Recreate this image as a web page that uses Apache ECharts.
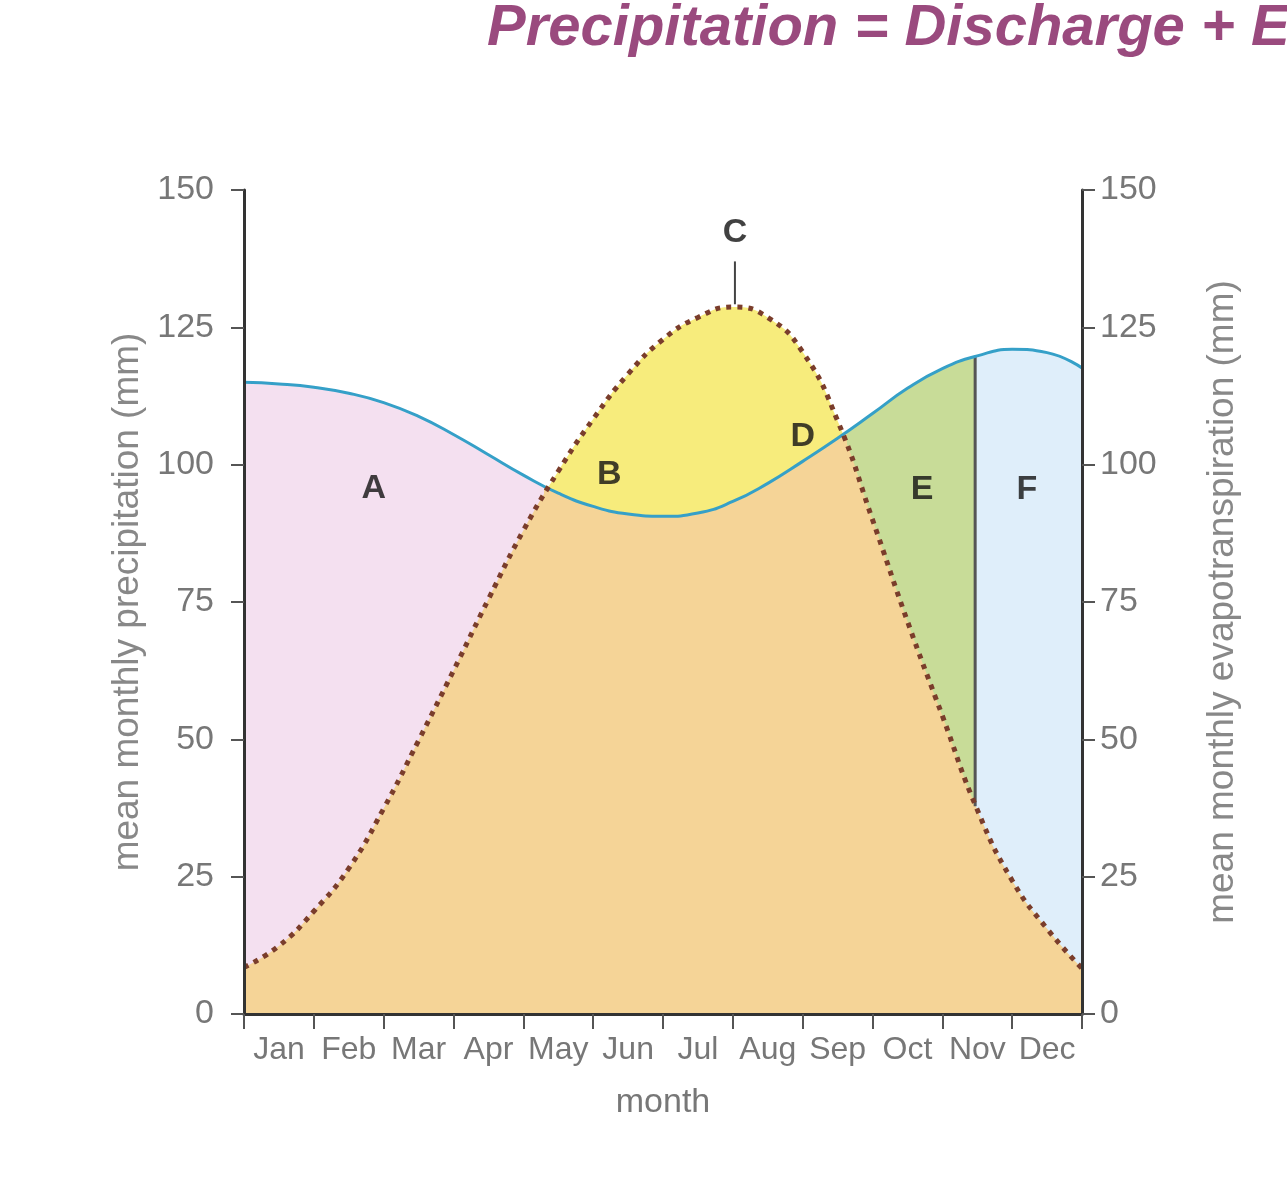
<!DOCTYPE html>
<html>
<head>
<meta charset="utf-8">
<title>Precipitation = Discharge + Evapotranspiration</title>
<script src="https://cdn.jsdelivr.net/npm/echarts@6/dist/echarts.min.js"></script>
<style>
	html, body { margin: 0; padding: 0; background: #fff; }
	#chart { width: 1287px; height: 1200px; }
</style>
</head>
<body>
<div id="chart"></div>
<script>
'use strict';

var months = ['Jan', 'Feb', 'Mar', 'Apr', 'May', 'Jun', 'Jul', 'Aug', 'Sep', 'Oct', 'Nov', 'Dec'];
// curve is read every half month
var monthSteps = [0, 0.5, 1, 1.5, 2, 2.5, 3, 3.5, 4, 4.5, 5, 5.5, 6, 6.5, 7, 7.5, 8, 8.5, 9, 9.5, 10, 10.5, 11, 11.5, 12];
var precipitation = [115, 114.7, 114.1, 113, 111.3, 108.8, 105.5, 101.8, 98.1, 94.8, 92.4, 91, 90.6, 91.2, 93.3, 96.6, 100.6, 104.8, 109.3, 113.9, 117.5, 119.8, 121, 120.4, 117.6];
var evapotranspiration = [8.5, 12.4, 18.7, 26.5, 37.4, 49.8, 62.5, 75.5, 88, 98.8, 108.3, 116.5, 122.8, 126.8, 128.7, 126.8, 120.5, 108, 90, 71.5, 54.3, 37.2, 24.3, 15.5, 8.3];

// where the zones change (month)
var deficitStart = 4.3;
var deficitEnd = 8.63;
var surplusStart = 10.47;
var surplusEdge = [37.8, 119.8];

var peakMonth = 7.03;
var peakTick = [129.2, 137];

var zoneNames = ['A', 'B', 'C', 'D', 'E', 'F'];
var zoneMonths = [1.86, 5.23, 7.03, 8.0, 9.71, 11.21];
var zoneValues = [95.6, 98.2, 142.2, 105.1, 95.5, 95.5];

var FONT = '"Liberation Sans", Arial, sans-serif';
var ORANGE = '#f5d497';

function curve(values) {
	return monthSteps.map(function (m, i) {
		return [m, values[i]];
	});
}

function areaOnly(values, z) {
	return {
		type: 'line',
		data: curve(values),
		smooth: true,
		symbol: 'none',
		silent: true,
		z: z,
		lineStyle: { width: 0, opacity: 0 },
		areaStyle: { opacity: 1 }
	};
}

var chart = echarts.init(document.getElementById('chart'));

var valueAxis = {
	type: 'value',
	min: 0,
	max: 150,
	interval: 25,
	z: 10,
	axisLine: { show: true, lineStyle: { color: '#333', width: 3 } },
	axisTick: { show: true, length: 13, lineStyle: { color: '#555', width: 2 } },
	splitLine: { show: false },
	nameLocation: 'middle',
	nameRotate: 90,
	nameTextStyle: { fontSize: 37, color: '#888', fontFamily: FONT }
};

var deficitArea = areaOnly(evapotranspiration, 1);
deficitArea.areaStyle.color = '#f7ec7c';

var option = {
	animation: false,
	backgroundColor: '#fff',
	title: {
		text: 'Precipitation = Discharge + Evapotranspiration',
		left: 487,
		top: 0,
		padding: 0,
		textStyle: { fontSize: 58, fontWeight: 'bold', fontStyle: 'italic', color: '#9a4a7e', fontFamily: FONT }
	},
	grid: { left: 244, right: 205, top: 190, bottom: 186, outerBoundsMode: 'none' },
	xAxis: {
		type: 'value',
		min: 0,
		max: 12,
		interval: 1,
		z: 10,
		axisLine: { show: true, onZero: false, lineStyle: { color: '#333', width: 3 } },
		axisTick: { show: true, length: 15, lineStyle: { color: '#555', width: 2 } },
		axisLabel: {
			color: '#777',
			fontSize: 32,
			fontFamily: FONT,
			margin: 20,
			// month names sit between the ticks
			padding: [0, 0, 0, 70],
			formatter: function (v) {
				return months[v] || '';
			}
		},
		splitLine: { show: false },
		name: 'month',
		nameLocation: 'middle',
		nameGap: 72,
		nameTextStyle: { fontSize: 34, color: '#777', fontFamily: FONT }
	},
	yAxis: [
		echarts.util.merge({
			position: 'left',
			name: 'mean monthly precipitation (mm)',
			nameGap: 98,
			axisLabel: { color: '#777', fontSize: 34, margin: 30, fontFamily: FONT }
		}, valueAxis),
		echarts.util.merge({
			position: 'right',
			name: 'mean monthly evapotranspiration (mm)',
			nameGap: 122,
			axisLabel: { color: '#777', fontSize: 34, margin: 18, fontFamily: FONT }
		}, valueAxis)
	],
	visualMap: [
		{
			show: false,
			type: 'piecewise',
			seriesIndex: 1,
			dimension: 0,
			pieces: [
				{ gte: 0, lt: deficitStart, color: '#f4e0f0' },
				{ gte: deficitStart, lt: deficitEnd, color: ORANGE },
				{ gte: deficitEnd, lt: surplusStart, color: '#c8dc98' },
				{ gte: surplusStart, lte: 12, color: '#dfeefa' }
			]
		},
		{
			show: false,
			type: 'piecewise',
			seriesIndex: 2,
			dimension: 0,
			pieces: [
				{ gte: 0, lt: deficitStart, color: ORANGE },
				{ gte: deficitStart, lt: deficitEnd, color: 'rgba(245,212,151,0)' },
				{ gte: deficitEnd, lte: 12, color: ORANGE }
			]
		}
	],
	series: [
		deficitArea,
		areaOnly(precipitation, 2),
		areaOnly(evapotranspiration, 3),
		{
			name: 'precipitation',
			type: 'line',
			data: curve(precipitation),
			smooth: true,
			symbol: 'none',
			z: 5,
			lineStyle: { color: '#35a0c8', width: 3 }
		},
		{
			name: 'evapotranspiration',
			type: 'line',
			data: curve(evapotranspiration),
			smooth: true,
			symbol: 'none',
			z: 6,
			lineStyle: { color: '#7a3d2b', width: 5, type: [5, 6], cap: 'butt' }
		},
		{
			type: 'line',
			data: [[surplusStart, surplusEdge[0]], [surplusStart, surplusEdge[1]]],
			symbol: 'none',
			z: 4,
			lineStyle: { color: '#555', width: 3 }
		},
		{
			type: 'line',
			data: [[peakMonth, peakTick[0]], [peakMonth, peakTick[1]]],
			symbol: 'none',
			z: 4,
			lineStyle: { color: '#444', width: 2 }
		},
		{
			type: 'scatter',
			data: zoneMonths.map(function (m, i) {
				return [m, zoneValues[i]];
			}),
			symbolSize: 1,
			z: 7,
			itemStyle: { color: 'rgba(0,0,0,0)' },
			label: {
				show: true,
				position: 'inside',
				fontSize: 34,
				fontWeight: 'bold',
				color: '#111',
				fontFamily: FONT,
				formatter: function (p) {
					return zoneNames[p.dataIndex];
				}
			}
		}
	]
};

chart.setOption(option);
</script>
</body>
</html>
